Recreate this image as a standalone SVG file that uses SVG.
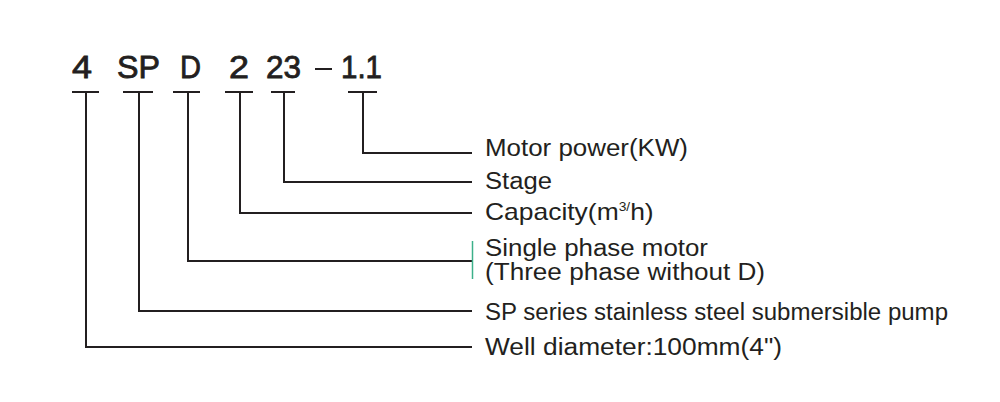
<svg xmlns="http://www.w3.org/2000/svg" width="1000" height="402" viewBox="0 0 1000 402">
<style>
.code{font-family:"Liberation Sans",Arial,sans-serif;font-size:31px;fill:#231f20;stroke:#231f20;stroke-width:0.8}
.lbl{font-family:"Liberation Sans",Arial,sans-serif;font-size:23px;fill:#231f20}
.ln{stroke:#231f20;stroke-width:2;fill:none}
</style>
<rect width="1000" height="402" fill="#ffffff"/>
<g id="code">
<text class="code" x="72" y="78" textLength="20" lengthAdjust="spacingAndGlyphs">4</text>
<text class="code" x="117" y="78" textLength="43" lengthAdjust="spacingAndGlyphs">SP</text>
<text class="code" x="180" y="78" textLength="21" lengthAdjust="spacingAndGlyphs">D</text>
<text class="code" x="229" y="78" textLength="20" lengthAdjust="spacingAndGlyphs">2</text>
<text class="code" x="266" y="78" textLength="35" lengthAdjust="spacingAndGlyphs">23</text>
<text class="code" x="341" y="78" textLength="41" lengthAdjust="spacingAndGlyphs">1.1</text>
<line class="ln" x1="315" y1="69" x2="332" y2="69" stroke-width="2.5"/>
</g>
<g id="connectors">
<path class="ln" d="M72 92H99M86 92V347H472"/>
<path class="ln" d="M123 92H153M139 92V311H472"/>
<path class="ln" d="M173 92H200M188 92V261H472"/>
<path class="ln" d="M225 92H253M240 92V213H472"/>
<path class="ln" d="M271 92H295M284 92V182H472"/>
<path class="ln" d="M348 92H377M363 92V153H472"/>
<line x1="472.5" y1="241" x2="472.5" y2="279" stroke="#3cb08a" stroke-width="1.5"/>
</g>
<g id="motor-power"><text class="lbl" x="485" y="156" textLength="203" lengthAdjust="spacingAndGlyphs">Motor power(KW)</text></g>
<g id="stage"><text class="lbl" x="485" y="189" textLength="67" lengthAdjust="spacingAndGlyphs">Stage</text></g>
<g id="capacity"><text class="lbl" transform="translate(485 220) scale(1.15 1)">Capacity(m<tspan font-size="12" dy="-9">3/</tspan><tspan dy="9">h)</tspan></text></g>
<g id="single-phase">
<text class="lbl" x="485" y="256" textLength="223" lengthAdjust="spacingAndGlyphs">Single phase motor</text>
<text class="lbl" x="485" y="280" textLength="280" lengthAdjust="spacingAndGlyphs">(Three phase without D)</text>
</g>
<g id="sp-series"><text class="lbl" x="485" y="320" textLength="463" lengthAdjust="spacingAndGlyphs">SP series stainless steel submersible pump</text></g>
<g id="well"><text class="lbl" x="485" y="355" textLength="297" lengthAdjust="spacingAndGlyphs">Well diameter:100mm(4")</text></g>
</svg>
